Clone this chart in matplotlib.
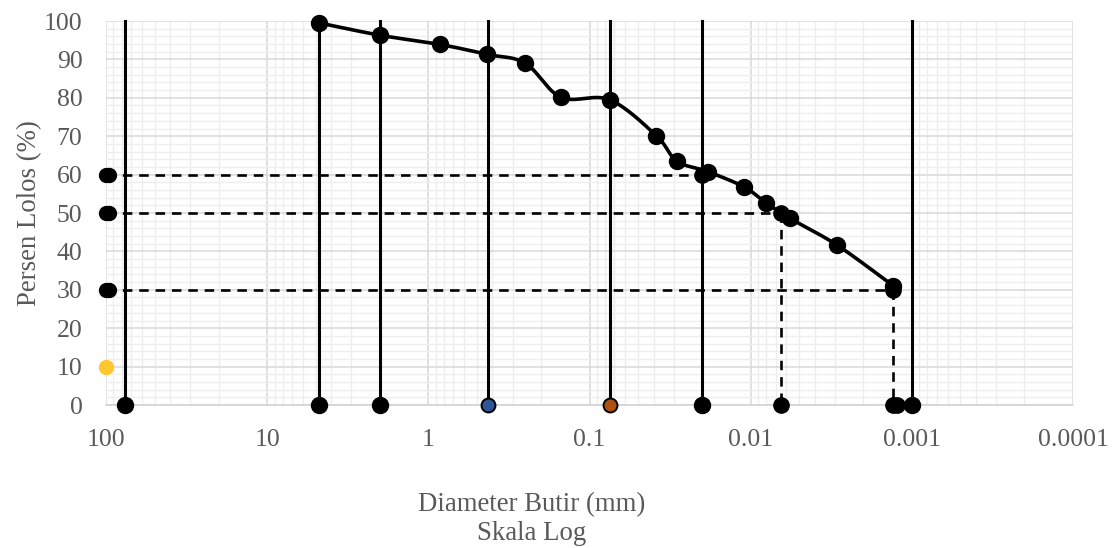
import numpy as np
import matplotlib
matplotlib.use("Agg")
import matplotlib.pyplot as plt
from matplotlib.ticker import FixedLocator, FixedFormatter, NullFormatter

# ---- data ----
curve_d = [4.75, 2.0, 0.85, 0.43, 0.25, 0.15, 0.075, 0.0384, 0.0287, 0.0185, 0.011, 0.008, 0.0057, 0.0029, 0.0013]
curve_p = [99.5, 96.3, 93.9, 91.3, 89.0, 80.1, 79.5, 70.1, 63.5, 60.8, 56.8, 52.6, 48.6, 41.6, 31.0]

limit_d = [76.2, 4.75, 2.0, 0.425, 0.075, 0.02, 0.001]   # solid vertical boundary lines
limit_colors = ['black', 'black', 'black', '#2E5597', '#B0520F', 'black', 'black']

d60, d50, d30 = 0.0201, 0.0065, 0.00131
d_levels = [60, 50, 30]
d_values = [d60, d50, d30]
d10_level = 10

x_ticks = [100, 10, 1, 0.1, 0.01, 0.001, 0.0001]
x_tick_labels = ['100', '10', '1', '0.1', '0.01', '0.001', '0.0001']
y_ticks = list(range(0, 101, 10))

# ---- figure ----
fig = plt.figure(figsize=(11.14, 5.48), dpi=100)
ax = fig.add_axes([106/1114, (548-405)/548, (1073-106)/1114, (405-21)/548])
ax.set_xscale('log')
ax.set_xlim(100, 0.0001)
ax.set_ylim(0, 100)

# grid
minor_x = [m * 10.0**e for e in range(-4, 2) for m in range(2, 10)]
ax.xaxis.set_major_locator(FixedLocator(x_ticks))
ax.xaxis.set_major_formatter(FixedFormatter(x_tick_labels))
ax.xaxis.set_minor_locator(FixedLocator(minor_x))
ax.xaxis.set_minor_formatter(NullFormatter())
ax.yaxis.set_major_locator(FixedLocator(y_ticks))
ax.yaxis.set_minor_locator(FixedLocator(list(range(0, 101, 2))))
ax.grid(which='major', color='#D9D9D9', lw=1.1, zorder=0)
ax.grid(which='minor', color='#EEEEEE', lw=1.0, zorder=0)
ax.set_axisbelow(True)
for s in ['top', 'right', 'left']:
    ax.spines[s].set_visible(False)
ax.spines['bottom'].set_color('#D0D0D0')
ax.spines['bottom'].set_linewidth(1.1)
ax.tick_params(which='both', length=0)
ax.tick_params(axis='y', pad=17, labelsize=18.5, labelcolor='#595959')
ax.tick_params(axis='x', pad=17, labelsize=18.5, labelcolor='#595959')
for lab in ax.get_xticklabels() + ax.get_yticklabels():
    lab.set_fontfamily('Liberation Serif')

ms = 11.5

# solid vertical boundary lines
for xv, c in zip(limit_d, limit_colors):
    ax.plot([xv, xv], [0, 100], color='black', lw=2.2, zorder=3, clip_on=False)
    if c == 'black':
        ax.plot([xv], [0], 'o', color='black', ms=ms, zorder=5, clip_on=False)
    else:
        ax.plot([xv], [0], 'o', mfc=c, mec='black', mew=1.4, ms=10, zorder=5, clip_on=False)

# dashed D-lines
for lev, dv in zip(d_levels, d_values):
    ax.plot([100, dv], [lev, lev], color='black', lw=1.9, ls=(0, (3.6, 2.6)), zorder=3, clip_on=False)
    ax.plot([dv, dv], [lev, 0], color='black', lw=1.9, ls=(0, (3.6, 2.6)), zorder=3, clip_on=False)
    ax.plot([100, 96], [lev, lev], 'o', color='black', ms=10, zorder=5, clip_on=False, ls='none')
    ax.plot([dv, dv], [lev, 0], 'o', color='black', ms=11, zorder=5, clip_on=False, ls='none')
ax.plot([d30 * 0.95], [0], 'o', color='black', ms=11, zorder=5, clip_on=False)
ax.plot([100], [d10_level], 'o', color='#FFC72C', ms=10, zorder=5, clip_on=False)

# smooth grading curve (Excel-style Bezier smoothing in log space)
lx = np.log10(curve_d)
py = np.array(curve_p, dtype=float)
pts = np.column_stack([lx, py])
seg = []
n = len(pts)
for i in range(n - 1):
    p0 = pts[i - 1] if i > 0 else pts[i]
    p1 = pts[i]
    p2 = pts[i + 1]
    p3 = pts[i + 2] if i + 2 < n else pts[i + 1]
    c1 = p1 + (p2 - p0) / 6.0
    c2 = p2 - (p3 - p1) / 6.0
    t = np.linspace(0, 1, 30)[:, None]
    b = (1 - t)**3 * p1 + 3 * (1 - t)**2 * t * c1 + 3 * (1 - t) * t**2 * c2 + t**3 * p2
    seg.append(b if i == 0 else b[1:])
curve = np.vstack(seg)
ax.plot(10**curve[:, 0], curve[:, 1], color='black', lw=2.6, zorder=4, clip_on=False)
ax.plot(curve_d, curve_p, 'o', color='black', ms=ms, zorder=6, clip_on=False)

# labels
fig.text(532/1114, 1 - 505/548, 'Diameter Butir (mm)', ha='center', va='center',
         fontsize=19.3, color='#595959', family='Liberation Serif')
fig.text(532/1114, 1 - 534/548, 'Skala Log', ha='center', va='center',
         fontsize=19.3, color='#595959', family='Liberation Serif')
fig.text(30/1114, 1 - 213/548, 'Persen Lolos (%)', ha='center', va='center', rotation=90,
         fontsize=19.3, color='#595959', family='Liberation Serif')

fig.savefig('out.png', dpi=100)
